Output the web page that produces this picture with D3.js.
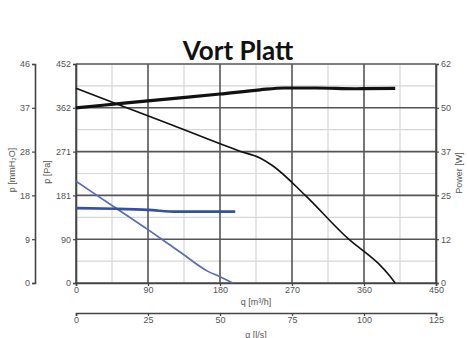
<!DOCTYPE html>
<html><head><meta charset="utf-8">
<script src="https://cdn.jsdelivr.net/npm/d3@7"></script>
<style>body{margin:0;background:#fff;} svg{display:block;}</style>
</head><body>
<script>
// ---- data ----
const title = "Vort Platt";
const paTickLabels = ["0","90","181","271","362","452"];
const mmTickLabels = ["0","9","18","28","37","46"];
const powerTickLabels = ["0","12","25","37","50","62"];
const qTickValues = [0,90,180,270,360,450];
const lsTickValues = [0,25,50,75,100,125];
// pressure curves [q m3/h, Pa]
const pressureBlack = [[0,402],[60,364],[120,326],[205,272],[230,258],[245,243],[286,182],[342,89],[364,60],[380,37],[392,15],[399,0]];
const pressureBlue = [[0,210],[45,160],[90,110],[130,64],[165,24],[180,13],[196,0]];
// power curves [q m3/h, W]
const powerBlack = [[0,49.6],[60,50.9],[120,52.2],[180,53.5],[230,54.7],[260,55.2],[300,55.2],[350,55.0],[399,55.1]];
const powerBlue = [[0,21.2],[50,21.0],[90,20.7],[126,20.2],[160,20.2],[199,20.2]];

const W = 467, H = 338;
const L = 76, R = 436, T = 64, B = 283;
const svg = d3.select("body").append("svg").attr("width", W).attr("height", H);

const x = d3.scaleLinear().domain([0,450]).range([L,R]);
const xls = d3.scaleLinear().domain([0,125]).range([L,R]);
const yPa = d3.scaleLinear().domain([0,452]).range([B,T]);
const yMm = d3.scaleLinear().domain([0,46.1]).range([B,T]);
const yW = d3.scaleLinear().domain([0,62]).range([B,T]);

const nT = 5;
const paVals = d3.range(nT+1).map(i => 452*i/nT);
const mmVals = d3.range(nT+1).map(i => 46.1*i/nT);
const wVals = d3.range(nT+1).map(i => 62*i/nT);

const font = "'Liberation Sans', Arial, sans-serif";
const txtCol = "#555";

// minor grid
const g = svg.append("g");
const minorX = qTickValues.slice(0,-1).map(v => v+45);
const minorY = paVals.slice(0,-1).map(v => v+452/nT/2);
g.selectAll(".mx").data(minorX).join("line")
  .attr("x1", d=>x(d)).attr("x2", d=>x(d)).attr("y1", T).attr("y2", B)
  .attr("stroke", "#d6d6d6").attr("stroke-width", 1.2);
g.selectAll(".my").data(minorY).join("line")
  .attr("x1", L).attr("x2", R).attr("y1", d=>yPa(d)).attr("y2", d=>yPa(d))
  .attr("stroke", "#d6d6d6").attr("stroke-width", 1.2);
// major grid
g.selectAll(".Mx").data(qTickValues).join("line")
  .attr("x1", d=>x(d)).attr("x2", d=>x(d)).attr("y1", T).attr("y2", B)
  .attr("stroke", "#555").attr("stroke-width", 1.6);
g.selectAll(".My").data(paVals).join("line")
  .attr("x1", L).attr("x2", R).attr("y1", d=>yPa(d)).attr("y2", d=>yPa(d))
  .attr("stroke", "#555").attr("stroke-width", 1.6);

function styleAxis(sel){
  sel.selectAll("path.domain").attr("stroke","#444").attr("stroke-width",1.6);
  sel.selectAll(".tick line").attr("stroke","#444").attr("stroke-width",1.2);
  sel.selectAll("text").attr("fill",txtCol).style("font-family",font).style("font-size","9px");
}

// left Pa axis
svg.append("g").attr("transform",`translate(${L},0)`)
  .call(d3.axisLeft(yPa).tickValues(paVals).tickSize(3).tickPadding(2).tickFormat((d,i)=>paTickLabels[i]))
  .call(styleAxis);
// mmH2O axis
svg.append("g").attr("transform",`translate(35,0)`)
  .call(d3.axisLeft(yMm).tickValues(mmVals).tickSize(3).tickPadding(2).tickFormat((d,i)=>mmTickLabels[i]))
  .call(styleAxis);
// right Power axis
svg.append("g").attr("transform",`translate(${R},0)`)
  .call(d3.axisRight(yW).tickValues(wVals).tickSize(3).tickPadding(2).tickFormat((d,i)=>powerTickLabels[i]))
  .call(styleAxis);
// bottom q axis
svg.append("g").attr("transform",`translate(0,${B})`)
  .call(d3.axisBottom(x).tickValues(qTickValues).tickSize(3).tickPadding(1).tickFormat(d3.format("d")))
  .call(styleAxis);
// l/s axis
svg.append("g").attr("transform",`translate(0,313)`)
  .call(d3.axisBottom(xls).tickValues(lsTickValues).tickSize(3).tickPadding(1).tickFormat(d3.format("d")))
  .call(styleAxis);

// axis titles
function label(txt, xx, yy, rot){
  svg.append("text").attr("transform",`translate(${xx},${yy})${rot?` rotate(${rot})`:""}`)
    .attr("text-anchor","middle").attr("dominant-baseline","middle")
    .attr("fill",txtCol).style("font-family",font).style("font-size","9px").text(txt);
}
label("p [mmH\u2082O]", 13, 170, -90);
label("p [Pa]", 48, 172, -90);
label("Power [W]", 460, 173, -90);
label("q [m\u00b3/h]", 256, 303, 0);
label("q [l/s]", 256, 336, 0);

// title
svg.append("text").attr("x", 238).attr("y", 60).attr("text-anchor","middle")
  .style("font-family","Lato, 'Open Sans', sans-serif").style("font-weight","bold").style("font-size","26px")
  .attr("fill","#111").text(title);

// curves
const linePa = d3.line().x(d=>x(d[0])).y(d=>yPa(d[1])).curve(d3.curveMonotoneX);
const lineW = d3.line().x(d=>x(d[0])).y(d=>yW(d[1])).curve(d3.curveMonotoneX);
svg.append("path").datum(pressureBlue).attr("d", linePa).attr("fill","none").attr("stroke","#5a6ab5").attr("stroke-width",1.6);
svg.append("path").datum(powerBlue).attr("d", lineW).attr("fill","none").attr("stroke","#3152a3").attr("stroke-width",2.6);
svg.append("path").datum(pressureBlack).attr("d", linePa).attr("fill","none").attr("stroke","#111").attr("stroke-width",1.6);
svg.append("path").datum(powerBlack).attr("d", lineW).attr("fill","none").attr("stroke","#111").attr("stroke-width",3.2);
</script>
</body></html>
